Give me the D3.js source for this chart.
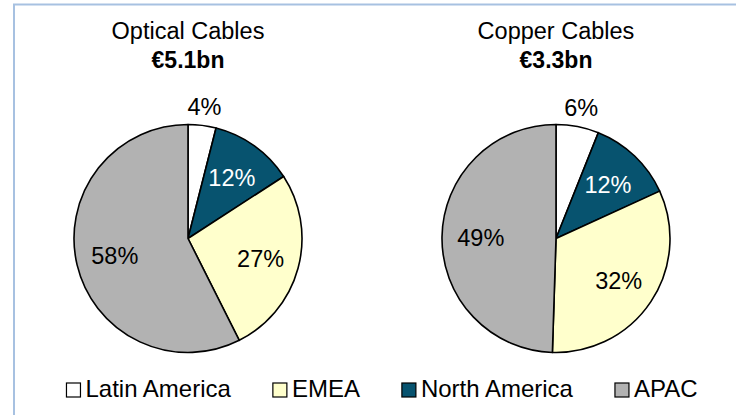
<!DOCTYPE html>
<html>
<head>
<meta charset="utf-8">
<script src="https://cdn.jsdelivr.net/npm/d3@7"></script>
<style>
  html, body { margin: 0; padding: 0; background: #fff; }
  svg { display: block; font-family: Arial, "Liberation Sans", sans-serif; }
</style>
</head>
<body>
<svg id="chart" width="736" height="415"></svg>
<script>
// Regional split of cable sales, by product line
const regions = ["Latin America", "North America", "EMEA", "APAC"];
const legendOrder = ["Latin America", "EMEA", "North America", "APAC"];
const titles = ["Optical Cables", "Copper Cables"];
const totals = ["€5.1bn", "€3.3bn"];
const opticalShares = [4, 12, 27, 58];
const copperShares = [6, 12, 32, 49];

const colors = d3.scaleOrdinal()
  .domain(regions)
  .range(["#ffffff", "#07536f", "#ffffcc", "#b2b2b2"]);
const labelColors = d3.scaleOrdinal()
  .domain(regions)
  .range(["#000", "#fff", "#000", "#000"]);

const svg = d3.select("#chart");

// Light frame around the chart area
svg.append("rect")
  .attr("x", 14).attr("y", 4.5)
  .attr("width", 760).attr("height", 440)
  .attr("fill", "none")
  .attr("stroke", "#a7c1e1")
  .attr("stroke-width", 2);

const charts = [
  { title: titles[0], total: totals[0], values: opticalShares },
  { title: titles[1], total: totals[1], values: copperShares }
];

const cx = d3.scalePoint().domain(d3.range(charts.length)).range([188, 556]);
const cy = 238.5;
const R = 114;

const pie = d3.pie().sort(null).value(d => d.value);
const arc = d3.arc().innerRadius(0).outerRadius(R);
const inLabel = d3.arc().innerRadius(R * 0.66).outerRadius(R * 0.66);
const outLabel = d3.arc().innerRadius(R + 19).outerRadius(R + 19);

charts.forEach((c, i) => {
  const x0 = cx(i);
  const g = svg.append("g");

  g.append("text")
    .attr("x", x0).attr("y", 39)
    .attr("text-anchor", "middle")
    .attr("font-size", 23.5)
    .attr("fill", "#000")
    .text(c.title);
  g.append("text")
    .attr("x", x0).attr("y", 68)
    .attr("text-anchor", "middle")
    .attr("font-size", 23)
    .attr("font-weight", "bold")
    .attr("fill", "#000")
    .text(c.total);

  const data = pie(regions.map((r, k) => ({ region: r, value: c.values[k] })));
  const pg = g.append("g").attr("transform", `translate(${x0},${cy})`);

  pg.selectAll("path")
    .data(data)
    .join("path")
    .attr("d", arc)
    .attr("fill", d => colors(d.data.region))
    .attr("stroke", "#000")
    .attr("stroke-width", 1.6)
    .attr("stroke-linejoin", "round");

  pg.selectAll("text")
    .data(data)
    .join("text")
    .attr("transform", d => {
      const small = d.data.value < 8;
      const p = (small ? outLabel : inLabel).centroid(d);
      return `translate(${p[0]},${p[1]})`;
    })
    .attr("text-anchor", "middle")
    .attr("dy", "0.36em")
    .attr("font-size", 23.5)
    .attr("fill", d => d.data.value < 8 ? "#000" : labelColors(d.data.region))
    .text(d => d.data.value + "%");
});

// Legend: swatches with equal spacing, centred under the pies
const legend = svg.append("g");
const box = 14, pad = 5, gap = 42, baseY = 397;
const items = legend.selectAll("g")
  .data(legendOrder)
  .join("g");
items.append("rect")
  .attr("width", box).attr("height", box)
  .attr("y", baseY - box)
  .attr("fill", d => colors(d))
  .attr("stroke", "#000")
  .attr("stroke-width", 1.2);
items.append("text")
  .attr("x", box + pad)
  .attr("y", baseY)
  .attr("font-size", 24)
  .attr("fill", "#000")
  .text(d => d);

const widths = [];
items.each(function () {
  widths.push(box + pad + d3.select(this).select("text").node().getComputedTextLength());
});
const total = d3.sum(widths) + gap * (widths.length - 1);
let xPos = 382 - total / 2;
items.attr("transform", (d, k) => {
  const t = `translate(${xPos},0)`;
  xPos += widths[k] + gap;
  return t;
});
</script>
</body>
</html>
